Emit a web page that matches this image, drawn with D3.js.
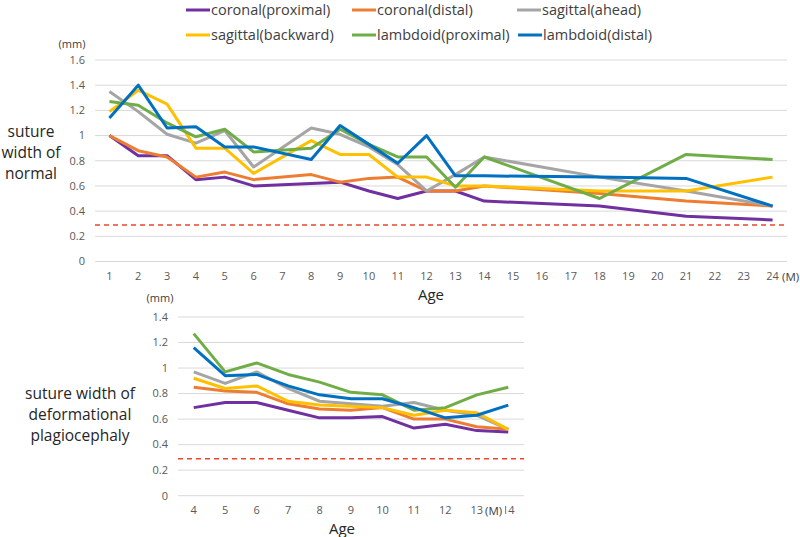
<!DOCTYPE html>
<html>
<head>
<meta charset="utf-8">
<script src="https://cdn.jsdelivr.net/npm/d3@7/dist/d3.min.js"></script>
<style>
  body { margin: 0; background: #fff; }
  svg { display: block; font-family: "Open Sans", "Noto Sans", sans-serif; }
</style>
</head>
<body>
<svg width="800" height="537"></svg>
<script>
// series names + colours (legend order)
var seriesNames = ["coronal(proximal)", "coronal(distal)", "sagittal(ahead)",
                   "sagittal(backward)", "lambdoid(proximal)", "lambdoid(distal)"];
var seriesColors = ["#7030a0", "#ed7d31", "#a5a5a5", "#ffc000", "#70ad47", "#0070c0"];

// top chart: normal
var topTicks = ["1","2","3","4","5","6","7","8","9","10","11","12","13","14","15","16","17","18","19","20","21","22","23","24"];
var topMonths = [1, 2, 3, 4, 5, 6, 8, 9, 10, 11, 12, 13, 14, 18, 21, 24];
var topCoronalProx  = [1.00, 0.84, 0.84, 0.65, 0.67, 0.60, 0.62, 0.63, 0.56, 0.50, 0.56, 0.56, 0.48, 0.44, 0.36, 0.33];
var topCoronalDist  = [1.00, 0.88, 0.83, 0.67, 0.71, 0.65, 0.69, 0.63, 0.66, 0.67, 0.56, 0.56, 0.60, 0.54, 0.48, 0.44];
var topSagAhead     = [1.35, 1.19, 1.01, 0.94, 1.04, 0.75, 1.06, 1.01, 0.91, 0.77, 0.56, 0.69, 0.83, 0.67, 0.56, 0.44];
var topSagBack      = [1.19, 1.36, 1.25, 0.90, 0.90, 0.70, 0.96, 0.85, 0.85, 0.67, 0.67, 0.60, 0.60, 0.56, 0.56, 0.67];
var topLambProx     = [1.27, 1.24, 1.10, 0.99, 1.05, 0.87, 0.90, 1.05, 0.93, 0.83, 0.83, 0.59, 0.83, 0.50, 0.85, 0.81];
var topLambDist     = [1.14, 1.40, 1.06, 1.07, 0.91, 0.91, 0.81, 1.08, 0.93, 0.78, 1.00, 0.68, 0.68, 0.67, 0.66, 0.44];

// bottom chart: deformational plagiocephaly
var botTicks = ["4","5","6","7","8","9","10","11","12","13","14"];
var botMonths = [4, 5, 6, 7, 8, 9, 10, 11, 12, 13, 14];
var botCoronalProx  = [0.69, 0.73, 0.73, 0.67, 0.61, 0.61, 0.62, 0.53, 0.56, 0.51, 0.50];
var botCoronalDist  = [0.85, 0.82, 0.81, 0.72, 0.68, 0.67, 0.69, 0.60, 0.60, 0.54, 0.52];
var botSagAhead     = [0.97, 0.88, 0.97, 0.84, 0.74, 0.72, 0.70, 0.73, 0.67, 0.63, 0.52];
var botSagBack      = [0.92, 0.84, 0.86, 0.74, 0.71, 0.70, 0.69, 0.63, 0.67, 0.65, 0.52];
var botLambProx     = [1.27, 0.97, 1.04, 0.95, 0.89, 0.81, 0.79, 0.67, 0.69, 0.79, 0.85];
var botLambDist     = [1.16, 0.94, 0.95, 0.86, 0.79, 0.76, 0.76, 0.69, 0.61, 0.63, 0.71];

var yTicks = [0, 0.2, 0.4, 0.6, 0.8, 1, 1.2, 1.4, 1.6];
var yTicksBot = [0, 0.2, 0.4, 0.6, 0.8, 1, 1.2, 1.4];
var normalLimit = 0.29;

var svg = d3.select("svg");

// legend
var legendItems = [
  {x: 186, y: 10}, {x: 352, y: 10}, {x: 517, y: 10},
  {x: 186, y: 35}, {x: 352, y: 35}, {x: 518, y: 35}
];
legendItems.forEach(function(p, i) {
  var g = svg.append("g").attr("transform", "translate(" + p.x + "," + p.y + ")");
  g.append("line").attr("x1", 0).attr("x2", 24).attr("y1", 0).attr("y2", 0)
    .style("stroke", seriesColors[i]).style("stroke-width", 3);
  g.append("text").attr("x", 25).attr("dy", "0.35em")
    .style("font-size", "14.5px").style("fill", "#404040")
    .text(seriesNames[i]);
});

function drawChart(opt) {
  var x = d3.scaleBand().domain(opt.ticks).range([opt.left, opt.right]);
  var y = d3.scaleLinear().domain([0, opt.yMax]).range([opt.bottom, opt.top]);
  var g = svg.append("g");

  // gridlines
  g.selectAll("line.grid").data(opt.yTicks).enter().append("line")
    .attr("x1", opt.left).attr("x2", opt.right)
    .attr("y1", function(d) { return y(d); }).attr("y2", function(d) { return y(d); })
    .style("stroke", "#d9d9d9").style("stroke-width", 1);

  // y labels
  g.selectAll("text.ylab").data(opt.yTicks).enter().append("text")
    .attr("x", opt.left - 10).attr("y", function(d) { return y(d); })
    .attr("dy", "0.35em").attr("text-anchor", "end")
    .style("font-size", "11px").style("fill", "#595959")
    .text(function(d) { return d; });

  // x labels
  g.selectAll("text.xlab").data(opt.ticks).enter().append("text")
    .attr("x", function(d) { return x(d) + x.bandwidth() / 2; })
    .attr("y", opt.bottom + 18)
    .attr("text-anchor", "middle")
    .style("font-size", "11px").style("fill", "#595959")
    .text(function(d) { return d; });

  // red dashed normal line
  g.append("line")
    .attr("x1", opt.left).attr("x2", opt.right)
    .attr("y1", y(normalLimit)).attr("y2", y(normalLimit))
    .style("stroke", "#e8472e").style("stroke-width", 1.5)
    .style("stroke-dasharray", "5,4");

  var line = d3.line()
    .x(function(d) { return x(String(d.m)) + x.bandwidth() / 2; })
    .y(function(d) { return y(d.v); });

  opt.series.forEach(function(vals, i) {
    var pts = vals.map(function(v, j) { return {m: opt.months[j], v: v}; });
    g.append("path").datum(pts)
      .attr("d", line)
      .style("fill", "none")
      .style("stroke", seriesColors[i])
      .style("stroke-width", 3)
      .style("stroke-linejoin", "round");
  });

  // (mm)
  g.append("text").attr("x", opt.mmX).attr("y", opt.mmY)
    .attr("text-anchor", "middle").style("font-size", "11px").style("fill", "#404040")
    .text("(mm)");

  // (M)
  var mx = opt.mX;
  if (opt.mW) {
    g.append("rect").attr("x", mx - 1).attr("y", opt.bottom + 6).attr("width", opt.mW).attr("height", 17)
      .style("fill", "#fff");
  }
  g.append("text").attr("x", mx).attr("y", opt.bottom + 19)
    .style("font-size", "11.5px").style("fill", "#404040")
    .text("(M)");

  // Age
  g.append("text").attr("x", opt.ageX).attr("y", opt.bottom + 38)
    .attr("text-anchor", "middle").style("font-size", "15px").style("fill", "#262626")
    .text("Age");

  // side label
  var side = g.append("text").attr("text-anchor", "middle")
    .style("font-size", "15.5px").style("fill", "#262626");
  opt.sideLines.forEach(function(t, k) {
    side.append("tspan").attr("x", opt.sideX).attr("y", opt.sideY + k * 21).text(t);
  });
}

drawChart({
  ticks: topTicks, months: topMonths,
  series: [topCoronalProx, topCoronalDist, topSagAhead, topSagBack, topLambProx, topLambDist],
  left: 95, right: 787, top: 60, bottom: 261.5, yMax: 1.6, yTicks: yTicks,
  mmX: 72, mmY: 48, mX: 782, mW: 0, ageX: 431,
  sideLines: ["suture", "width of", "normal"], sideX: 31, sideY: 137
});

drawChart({
  ticks: botTicks, months: botMonths,
  series: [botCoronalProx, botCoronalDist, botSagAhead, botSagBack, botLambProx, botLambDist],
  left: 178, right: 524, top: 317, bottom: 495.7, yMax: 1.4, yTicks: yTicksBot,
  mmX: 160, mmY: 302, mX: 485, mW: 21, ageX: 342,
  sideLines: ["suture width of", "deformational", "plagiocephaly"], sideX: 80, sideY: 399
});
</script>
</body>
</html>
